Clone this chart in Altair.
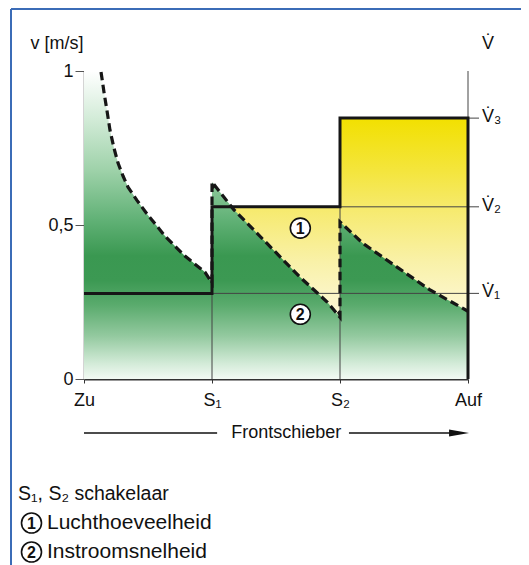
import json
import altair as alt
import pandas as pd

FONT = "Liberation Sans"

# ---------------- data ----------------
x_ticks = [0, 1, 2, 3]
x_labels = ["Zu", "S₁", "S₂", "Auf"]
y_ticks = [0, 0.5, 1]
y_labels = ["0", "0,5", "1"]

v_levels = [0.278, 0.559, 0.847]          # V1, V2, V3 (air volume steps)
v_labels = ["V\u0307\u2081", "V\u0307\u2082", "V\u0307\u2083"]

# inflow velocity (dashed saw-tooth curve), per switch segment
seg1_x = [0.133, 0.156, 0.18, 0.203, 0.234, 0.266, 0.305, 0.344, 0.414, 0.492,
          0.633, 0.789, 0.945, 1.0]
seg1_y = [0.997, 0.932, 0.87, 0.808, 0.75, 0.701, 0.659, 0.623, 0.58, 0.536,
          0.464, 0.399, 0.347, 0.312]
seg2_x = [1.0, 1.17, 1.43, 1.69, 1.9, 2.0]
seg2_y = [0.64, 0.55, 0.44, 0.33, 0.25, 0.20]
seg3_x = [2.0, 2.18, 2.44, 2.70, 3.0]
seg3_y = [0.51, 0.44, 0.365, 0.29, 0.22]

# air volume step line
step_x = [0, 1, 1, 2, 2, 3, 3]
step_y = [v_levels[0], v_levels[0], v_levels[1], v_levels[1], v_levels[2], v_levels[2], 0]

marker_x = [1.69, 1.69]
marker_y = [0.49, 0.21]
marker_text = ["1", "2"]

tri_x = [1.0, 2.0]
tri_y = [0.625, 0.213]

axis_title_left = "v [m/s]"
axis_title_right = "V\u0307"
arrow_title = "Frontschieber"
legend_lines = ["S₁, S₂ schakelaar", "Luchthoeveelheid", "Instroomsnelheid"]

# ---------------- tables ----------------
EPS = 1e-6  # keeps the vertical jumps in order when the area is sorted by x
curve_x = seg1_x + seg2_x + seg3_x
curve_y = seg1_y + seg2_y + seg3_y
dash_df = pd.DataFrame({"x": curve_x, "y": curve_y, "i": range(len(curve_x))})

area_x = [0] + seg1_x + [seg2_x[0] + EPS] + seg2_x[1:] + [seg3_x[0] + EPS] + seg3_x[1:]
area_y = [1.0] + curve_y
green_df = pd.DataFrame({"x": area_x, "y": area_y})
yellow_df = pd.DataFrame({"x": [step_x[2], step_x[3], step_x[4] + EPS, step_x[5]],
                          "y": step_y[2:6]})
step_df = pd.DataFrame({"x": step_x, "y": step_y, "i": range(len(step_x))})

thin_df = pd.DataFrame({
    "x":  [1, 2, 1, 2, 3],
    "x2": [3, 3, 1, 2, 3],
    "y":  [v_levels[0], v_levels[1], 0, 0, v_levels[2]],
    "y2": [v_levels[0], v_levels[1], v_levels[0], v_levels[1], 1],
})
vdf = pd.DataFrame({"y": v_levels, "t": v_labels})
mk_df = pd.DataFrame({"x": marker_x, "y": marker_y, "t": marker_text})

W, H = 384, 308

xs = alt.Scale(domain=[0, 3], nice=False, zero=False)
ys = alt.Scale(domain=[0, 1], nice=False)

xlab_expr = json.dumps(x_labels, ensure_ascii=False) + "[datum.value]"
ylab_expr = (json.dumps(y_labels, ensure_ascii=False) + "[indexof("
             + json.dumps(y_ticks) + ", datum.value)]")

xaxis = alt.Axis(values=x_ticks, labelExpr=xlab_expr, title=None, grid=False,
                 tickSize=4, tickColor="#333", domainColor="#333", domainWidth=2,
                 labelFontSize=18, labelFont=FONT, labelColor="#111",
                 labelPadding=8, labelFlush=False, labelOverlap=False)
yaxis = alt.Axis(values=y_ticks, labelExpr=ylab_expr, title=None, grid=False,
                 tickSize=9, tickColor="#555", domainColor="#555", domainWidth=1.5,
                 labelFontSize=18, labelFont=FONT, labelColor="#111",
                 labelPadding=2, labelFlush=False, labelOverlap=False)

X = alt.X("x:Q", scale=xs, axis=xaxis)
Y = alt.Y("y:Q", scale=ys, axis=yaxis, stack=None)

green_grad = alt.Gradient(
    gradient="linear", x1=0, x2=0, y1=0, y2=1,
    stops=[
        alt.GradientStop(color="#ffffff", offset=0),
        alt.GradientStop(color="#d4ecd9", offset=0.15),
        alt.GradientStop(color="#9fd2aa", offset=0.32),
        alt.GradientStop(color="#62b277", offset=0.48),
        alt.GradientStop(color="#3a9851", offset=0.6),
        alt.GradientStop(color="#3c9953", offset=0.68),
        alt.GradientStop(color="#5aab6d", offset=0.76),
        alt.GradientStop(color="#93c99f", offset=0.86),
        alt.GradientStop(color="#d3ebd8", offset=0.95),
        alt.GradientStop(color="#f3faf4", offset=1),
    ])
yellow_grad = alt.Gradient(
    gradient="linear", x1=0, x2=0, y1=0, y2=1,
    stops=[
        alt.GradientStop(color="#f2e000", offset=0),
        alt.GradientStop(color="#f4e53c", offset=0.2),
        alt.GradientStop(color="#f6ea6e", offset=0.35),
        alt.GradientStop(color="#f9f1a8", offset=0.55),
        alt.GradientStop(color="#fdf8d6", offset=0.75),
        alt.GradientStop(color="#fffdf0", offset=1),
    ])

layers = []

layers.append(alt.Chart(yellow_df).mark_area(color=yellow_grad, interpolate="linear")
              .encode(x=X, y=Y))
layers.append(alt.Chart(green_df).mark_area(color=green_grad, interpolate="linear")
              .encode(x=X, y=Y))

layers.append(alt.Chart(thin_df).mark_rule(color="#444", strokeWidth=1)
              .encode(x=X, x2="x2:Q", y=Y, y2="y2:Q"))
layers.append(alt.Chart(vdf).mark_rule(color="#444", strokeWidth=1)
              .encode(x=alt.value(W), x2=alt.value(W + 11), y=Y))

layers.append(alt.Chart(step_df).mark_line(color="#161616", strokeWidth=3,
                                           interpolate="linear")
              .encode(x=X, y=Y, order="i:Q"))
layers.append(alt.Chart(dash_df).mark_line(color="#161616", strokeWidth=3.2,
                                           strokeDash=[8.5, 4.5], interpolate="linear")
              .encode(x=X, y=Y, order="i:Q"))

tri_df1 = pd.DataFrame({"x": tri_x[:1], "y": tri_y[:1]})
tri_df2 = pd.DataFrame({"x": tri_x[1:], "y": tri_y[1:]})
layers.append(alt.Chart(tri_df1).mark_point(shape="M0,-1L0,1L0.9,0.2Z", filled=True,
                                            size=49, color="#161616", opacity=1)
              .encode(x=X, y=Y))
layers.append(alt.Chart(tri_df2).mark_point(shape="M0,1L0,-1L-0.9,-0.2Z", filled=True,
                                            size=49, color="#161616", opacity=1)
              .encode(x=X, y=Y))

layers.append(alt.Chart(mk_df).mark_point(shape="circle", filled=True, fill="white",
                                          stroke="#111", strokeWidth=1.6, size=400,
                                          opacity=1)
              .encode(x=X, y=Y))
layers.append(alt.Chart(mk_df).mark_text(font=FONT, fontSize=16, fontWeight="bold",
                                         color="#111", baseline="middle", dy=1)
              .encode(x=X, y=Y, text="t:N"))

layers.append(alt.Chart(vdf).mark_text(font=FONT, fontSize=18, color="#111",
                                       align="left", baseline="middle", dy=-1)
              .encode(x=alt.value(W + 14), y=Y, text="t:N"))

# axis titles
layers.append(alt.Chart(pd.DataFrame({"t": [axis_title_left]}))
              .mark_text(font=FONT, fontSize=18, color="#111", baseline="middle")
              .encode(x=alt.value(-27), y=alt.value(-27), text="t:N"))
layers.append(alt.Chart(pd.DataFrame({"t": [axis_title_right]}))
              .mark_text(font=FONT, fontSize=18, color="#111", baseline="middle")
              .encode(x=alt.value(W + 20), y=alt.value(-27), text="t:N"))

# Frontschieber arrow
arrow_df = pd.DataFrame({"x": [0, 2.07], "x2": [1.04, 2.9]})
layers.append(alt.Chart(arrow_df).mark_rule(color="#111", strokeWidth=1.5)
              .encode(x=X, x2="x2:Q", y=alt.value(362)))
layers.append(alt.Chart(pd.DataFrame({"x": [2.93]}))
              .mark_point(shape="M-1,-0.35L1,0L-1,0.35Z", filled=True, size=400,
                          color="#111", opacity=1)
              .encode(x=X, y=alt.value(362)))
layers.append(alt.Chart(pd.DataFrame({"x": [1.58], "t": [arrow_title]}))
              .mark_text(font=FONT, fontSize=18, color="#111", baseline="middle")
              .encode(x=X, y=alt.value(362), text="t:N"))

# legend below
leg_y = [423, 452, 481]
layers.append(alt.Chart(pd.DataFrame({"t": [legend_lines[0]]}))
              .mark_text(font=FONT, fontSize=19.5, color="#111", align="left",
                         baseline="middle")
              .encode(x=alt.value(-66), y=alt.value(leg_y[0]), text="t:N"))
for k in (1, 2):
    layers.append(alt.Chart(pd.DataFrame({"t": [marker_text[k - 1]]}))
                  .mark_point(shape="circle", filled=True, fill="white", stroke="#111",
                              strokeWidth=1.6, size=400, opacity=1)
                  .encode(x=alt.value(-52.5), y=alt.value(leg_y[k])))
    layers.append(alt.Chart(pd.DataFrame({"t": [marker_text[k - 1]]}))
                  .mark_text(font=FONT, fontSize=16, fontWeight="bold", color="#111",
                             baseline="middle", dy=1)
                  .encode(x=alt.value(-52.5), y=alt.value(leg_y[k]), text="t:N"))
    layers.append(alt.Chart(pd.DataFrame({"t": [legend_lines[k]]}))
                  .mark_text(font=FONT, fontSize=21, color="#111", align="left",
                             baseline="middle")
                  .encode(x=alt.value(-37), y=alt.value(leg_y[k]), text="t:N"))

# blue frame (top and left edges)
frame = pd.DataFrame({"k": [0]})
layers.append(alt.Chart(frame).mark_rule(color="#3b6cb7", strokeWidth=2)
              .encode(x=alt.value(-73), x2=alt.value(W + 60), y=alt.value(-62)))
layers.append(alt.Chart(frame).mark_rule(color="#3b6cb7", strokeWidth=2)
              .encode(x=alt.value(-73), y=alt.value(-62), y2=alt.value(H + 200)))

chart = alt.layer(*layers).properties(
    width=W, height=H,
    padding={"left": 76, "top": 63, "right": 53, "bottom": 195},
    autosize=alt.AutoSizeParams(type="none"),
    background="white",
).configure_view(strokeWidth=0)

chart.save("out.html", embed_options={"renderer": "svg", "actions": False})
